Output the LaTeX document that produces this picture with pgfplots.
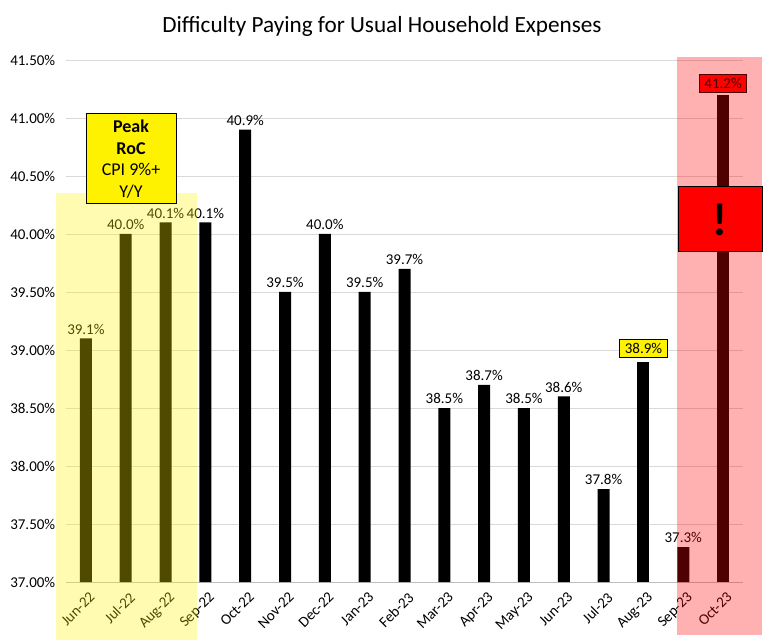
\documentclass[border=0pt]{standalone}
\usepackage{fontspec}
\setmainfont{Carlito}
\usepackage{pgfplots}
\pgfplotsset{compat=1.18}
\definecolor{gridgray}{HTML}{D9D9D9}
\begin{document}
\begin{tikzpicture}[x=1pt,y=1pt]
\useasboundingbox (0,0) rectangle (775,642);
\begin{axis}[at={(66pt,60pt)}, anchor=south west, width=677pt, height=522pt, scale only axis,
  xmin=-0.5, xmax=16.5, ymin=37, ymax=41.5,
  ytick={37,37.5,38,38.5,39,39.5,40,40.5,41,41.5},
  /pgf/number format/assume math mode=true,
  yticklabel={\pgfmathprintnumber[fixed,fixed zerofill,precision=2]{\tick}\%},
  y tick label style={font=\fontsize{15}{17}\selectfont, xshift=-3pt},
  xtick={0,...,16},
  xticklabels={Jun-22,Jul-22,Aug-22,Sep-22,Oct-22,Nov-22,Dec-22,Jan-23,Feb-23,Mar-23,Apr-23,May-23,Jun-23,Jul-23,Aug-23,Sep-23,Oct-23},
  x tick label style={rotate=45, anchor=north east, font=\fontsize{15}{17}\selectfont, yshift=-2pt, xshift=2pt},
  minor xtick={-0.5,0.5,...,16.5},
  xtick style={draw=none},
  minor x tick style={gridgray!70!gray, line width=0.8pt},
  minor tick length=5pt, tick align=outside,
  ytick style={draw=none},
  ymajorgrids, grid style={gridgray, line width=0.8pt},
  axis x line*=bottom, axis y line*=left,
  x axis line style={gridgray!70!gray, line width=0.8pt, -},
  y axis line style={draw=none},
  clip=false,
]
\addplot[ybar, bar width=12pt, bar shift=0pt, fill=black, draw=none,
  nodes near coords={\pgfmathprintnumber[fixed,fixed zerofill,precision=1]{\pgfplotspointmeta}\%},
  nodes near coords style={font=\fontsize{15}{17}\selectfont, text=black, inner sep=4pt}]
coordinates {(0,39.1) (1,40.0) (2,40.1) (3,40.1) (4,40.9) (5,39.5) (6,40.0) (7,39.5) (8,39.7) (9,38.5) (10,38.7) (11,38.5) (12,38.6) (13,37.8) (15,37.3)};
\addplot[ybar, bar width=12pt, bar shift=0pt, fill=black, draw=none,
  nodes near coords={\pgfmathprintnumber[fixed,fixed zerofill,precision=1]{\pgfplotspointmeta}\%},
  nodes near coords style={font=\fontsize{15}{17}\selectfont, text=black, fill=yellow, draw=black, line width=0.7pt, inner xsep=5pt, inner ysep=4pt, yshift=4pt}]
coordinates {(14,38.9)};
\addplot[ybar, bar width=12pt, bar shift=0pt, fill=black, draw=none,
  nodes near coords={\pgfmathprintnumber[fixed,fixed zerofill,precision=1]{\pgfplotspointmeta}\%},
  nodes near coords style={font=\fontsize{15}{17}\selectfont, text=black, fill=red, draw=black, line width=0.7pt, inner xsep=5pt, inner ysep=4pt, yshift=2pt}]
coordinates {(16,41.2)};
\end{axis}
\fill[yellow, opacity=0.31] (56,2) rectangle (197,449);
\fill[red, opacity=0.31] (677,7) rectangle (762,585);
\node[draw=black, fill=yellow, line width=1pt, minimum width=90, minimum height=90, align=center, inner sep=0pt,
  font=\fontsize{18}{21.5}\selectfont] at (131,483) {\textbf{Peak}\\\textbf{RoC}\\CPI 9\%+\\Y/Y};
\node[draw=black, fill=red, line width=1pt, minimum width=84, minimum height=65, inner sep=0pt,
  font=\fontsize{46}{50}\selectfont\bfseries] at (720,422.5) {!};
\node[font=\fontsize{23.2}{27}\selectfont] at (382,616) {Difficulty Paying for Usual Household Expenses};
\end{tikzpicture}
\end{document}
